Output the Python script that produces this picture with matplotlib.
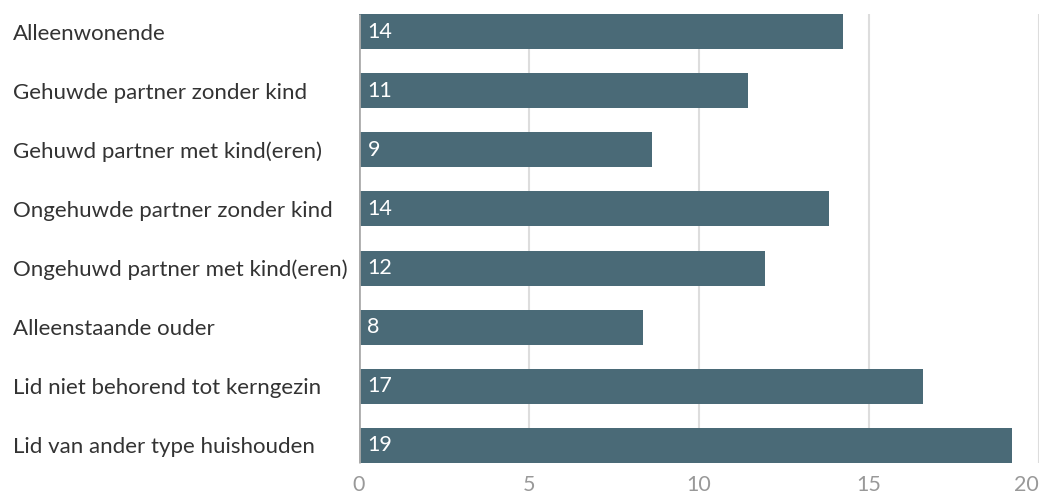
import numpy as np
import matplotlib.pyplot as plt

# gegevens
categorieen = [
    'Alleenwonende',
    'Gehuwde partner zonder kind',
    'Gehuwd partner met kind(eren)',
    'Ongehuwde partner zonder kind',
    'Ongehuwd partner met kind(eren)',
    'Alleenstaande ouder',
    'Lid niet behorend tot kerngezin',
    'Lid van ander type huishouden',
]
waarden = [14.23, 11.43, 8.63, 13.81, 11.93, 8.34, 16.6, 19.2]
x_ticks = [0, 5, 10, 15, 20]

plt.rcParams['font.family'] = ['Lato', 'DejaVu Sans']

kleur = '#4a6a77'
bar_h = 0.59

fig = plt.figure(figsize=(10.4, 4.95), dpi=100)
ax = fig.add_axes([359 / 1040, 1 - 475 / 495, 680 / 1040, 473 / 495])

y = np.arange(len(categorieen))
ax.barh(y, waarden, height=bar_h, color=kleur, zorder=3)

# rasterlijnen alleen over het bereik van de balken
ax.vlines(x_ticks[1:], y[0] - bar_h / 2, y[-1] + bar_h / 2, color='#dddddd', lw=1.5, zorder=1)
ax.vlines(0, y[0] - bar_h / 2, y[-1] + bar_h / 2, color='#aaaaaa', lw=2, zorder=4)

for yi, v in zip(y, waarden):
    ax.text(0.25, yi, f'{v:.0f}', color='white', fontsize=15.5, va='center', ha='left', zorder=5)

ax.set_xlim(0, 20)
ax.set_ylim(len(categorieen) - 0.5, -0.5)
ax.set_xticks(x_ticks)
ax.set_xticklabels([str(t) for t in x_ticks], color='#999999', fontsize=15.5)
ax.set_yticks(y)
ax.set_yticklabels(categorieen, fontsize=16, color='#333333', ha='left')
ax.tick_params(axis='y', length=0, pad=346 * 0.72)
ax.tick_params(axis='x', length=0, pad=0)
ax.get_xticklabels()[-1].set_ha('right')

for s in ax.spines.values():
    s.set_visible(False)

fig.savefig('out.png', dpi=100)
